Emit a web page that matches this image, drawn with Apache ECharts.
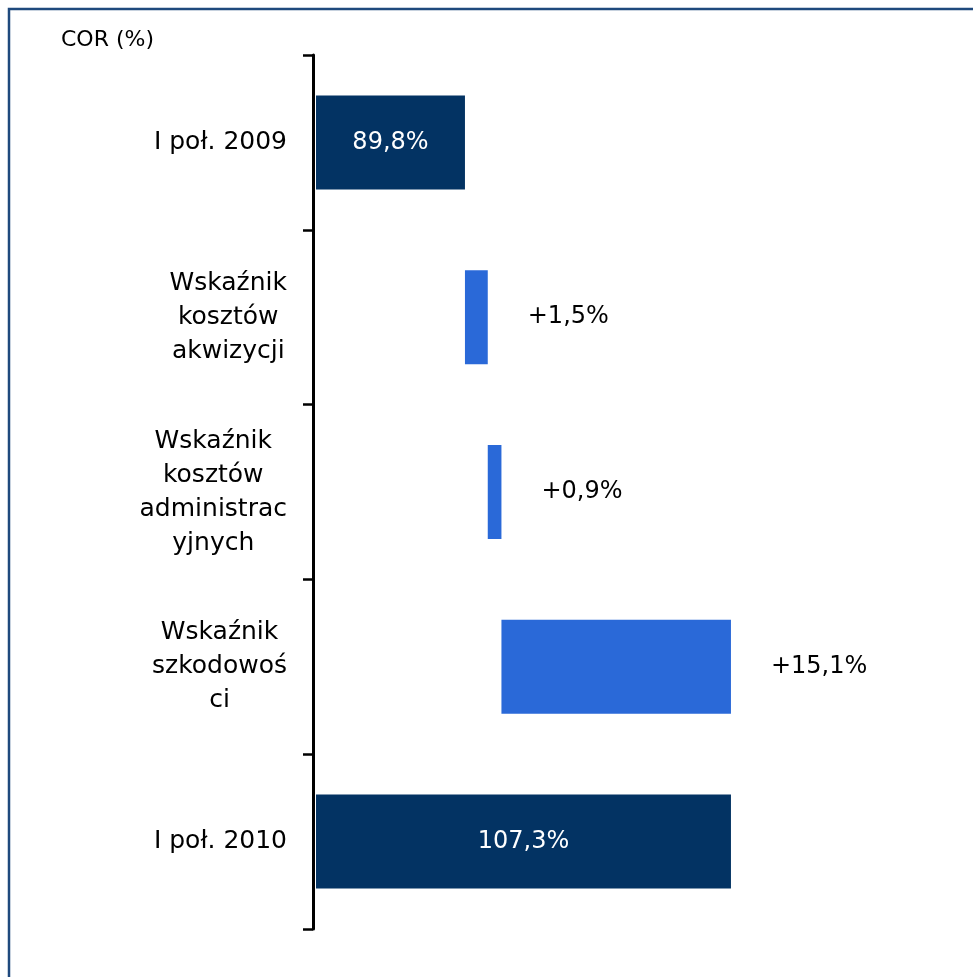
<!DOCTYPE html>
<html>
<head>
<meta charset="utf-8">
<script src="https://cdn.jsdelivr.net/npm/echarts@6/dist/echarts.min.js"></script>
<style>
  html, body { margin: 0; padding: 0; background: #ffffff; }
  #chart { width: 973px; height: 977px; }
</style>
</head>
<body>
<div id="chart"></div>
<script>
// ---- data ----
const categories = [
  'I poł. 2009',
  'Wskaźnik\nkosztów\nakwizycji',
  'Wskaźnik\nkosztów\nadministrac\nyjnych',
  'Wskaźnik\nszkodowoś\nci',
  'I poł. 2010'
];
const values = [89.8, 1.5, 0.9, 15.1, 107.3];
const kinds = ['total', 'inc', 'inc', 'inc', 'total'];
const axisTitle = 'COR (%)';

// ---- derived waterfall bases ----
const bases = [];
let running = 0;
values.forEach((v, i) => {
  if (kinds[i] === 'total') { bases.push(0); running = v; }
  else { bases.push(running); running += v; }
});
function fmt(v, kind) {
  const s = v.toFixed(1).replace('.', ',') + '%';
  return kind === 'inc' ? '+' + s : s;
}

const FONT = 'DejaVu Sans';
const NAVY = '#033363';
const BLUE = '#2A69D8';

const chart = echarts.init(document.getElementById('chart'), null, { renderer: 'canvas' });
chart.setOption({
  animation: false,
  backgroundColor: '#ffffff',
  grid: { left: 316, top: 55, width: 608, height: 874, containLabel: false },
  xAxis: {
    type: 'value', min: 80, max: 120,
    show: false
  },
  yAxis: {
    type: 'category',
    data: categories,
    inverse: true,
    offset: 3,
    axisLine: { show: true, lineStyle: { color: '#000', width: 3 } },
    axisTick: { show: true, length: 10, inside: false, lineStyle: { color: '#000', width: 2.5 } },
    splitLine: { show: false },
    axisLabel: {
      margin: 26,
      align: 'right',
      verticalAlign: 'middle',
      formatter: function (val) {
        return val.split('\n').map(l => '{c|' + l + '}').join('\n');
      },
      rich: {
        c: { align: 'center', fontFamily: FONT, fontSize: 25, lineHeight: 34, color: '#000' }
      }
    }
  },
  series: [
    {
      type: 'bar',
      stack: 'wf',
      silent: true,
      itemStyle: { color: 'rgba(0,0,0,0)' },
      data: bases,
      barWidth: 94,
      clip: true
    },
    {
      type: 'bar',
      stack: 'wf',
      barWidth: 94,
      clip: true,
      data: values.map((v, i) => {
        const total = kinds[i] === 'total';
        return {
          value: v,
          itemStyle: { color: total ? NAVY : BLUE },
          label: {
            show: true,
            position: total ? 'inside' : 'right',
            distance: 40,
            color: total ? '#ffffff' : '#000000',
            fontFamily: FONT,
            fontSize: 24,
            formatter: fmt(v, kinds[i])
          }
        };
      })
    }
  ],
  graphic: [
    {
      type: 'rect',
      shape: { x: 9, y: 9, width: 2000, height: 2000 },
      style: { fill: 'none', stroke: '#1F497D', lineWidth: 2.5 },
      silent: true
    },
    {
      type: 'text',
      left: 61, top: 29,
      style: { text: axisTitle, fontFamily: FONT, fontSize: 22, fill: '#000' }
    }
  ]
});
</script>
</body>
</html>
